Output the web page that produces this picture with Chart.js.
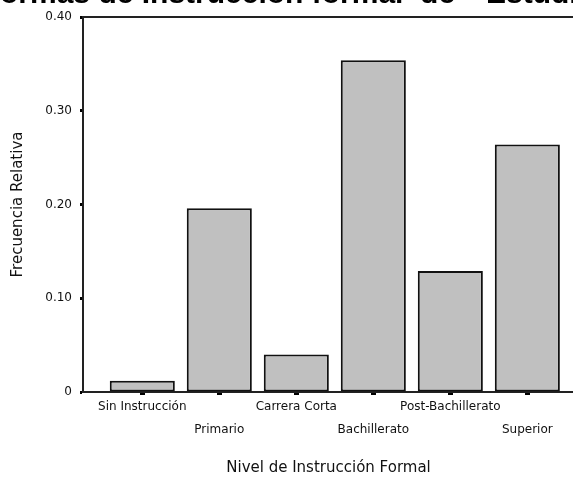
<!DOCTYPE html>
<html><head><meta charset="utf-8">
<script src="https://cdn.jsdelivr.net/npm/chart.js@4"></script>
<style>html,body{margin:0;padding:0;background:#fff;overflow:hidden;width:573px;height:477px}
canvas{display:block}</style></head>
<body><canvas id="c" width="576" height="477" style="width:576px;height:477px"></canvas>
<script>
const chartTitle = 'Formas de Instrucción formal  de  "Estudiantes"';
const categories = ['Sin Instrucción','Primario','Carrera Corta','Bachillerato','Post-Bachillerato','Superior'];
const relFreq = [0.012, 0.196, 0.040, 0.354, 0.129, 0.264];
const yTickValues = [0, 0.1, 0.2, 0.3, 0.4];
const yTickLabels = ['0', '0.10', '0.20', '0.30', '0.40'];
const xAxisTitle = 'Nivel de Instrucción Formal';
const yAxisTitle = 'Frecuencia Relativa';

const FONT = '"DejaVu Sans", Verdana, sans-serif';
const TFONT = '"Liberation Sans", Arial, sans-serif';
const TXT = '#111';

const clippedTitle = {
  id: 'clippedTitle',
  afterDraw(chart) {
    const ctx = chart.ctx;
    ctx.save();
    ctx.font = 'bold 30px ' + TFONT;
    ctx.fillStyle = '#000';
    ctx.textAlign = 'left';
    ctx.textBaseline = 'alphabetic';
    const off = ctx.measureText('F').width;
    ctx.fillText(chartTitle, -off, 3);
    ctx.restore();
  }
};
const frame = {
  id: 'frame',
  afterDatasetsDraw(chart) {
    const {ctx, chartArea: a} = chart;
    ctx.save();
    ctx.strokeStyle = '#222';
    ctx.lineWidth = 2;
    ctx.beginPath();
    ctx.moveTo(a.left, a.top);
    ctx.lineTo(a.right, a.top);
    ctx.lineTo(a.right, a.bottom);
    ctx.stroke();
    ctx.restore();
  }
};

new Chart(document.getElementById('c'), {
  type: 'bar',
  data: {
    datasets: [{
      data: relFreq.map((v, i) => ({x: i, y: v})),
      backgroundColor: '#c0c0c0',
      borderColor: '#111',
      borderWidth: 2,
      borderSkipped: false,
      barPercentage: 0.845,
      categoryPercentage: 1
    }]
  },
  options: {
    responsive: false,
    animation: false,
    layout: {padding: {top: 17, left: 0, right: 2, bottom: 0}},
    plugins: {legend: {display: false}, tooltip: {enabled: false}, title: {display: false}},
    scales: {
      x: {
        type: 'linear',
        min: -0.77,
        max: 5.606,
        offset: false,
        afterBuildTicks: s => { s.ticks = categories.map((_, i) => ({value: i})); },
        afterFit: s => { s.height = 85; },
        ticks: {
          autoSkip: false, maxRotation: 0, minRotation: 0, padding: 0,
          color: TXT,
          font: {family: FONT, size: 12, lineHeight: 23/12},
          callback: (v, i) => (i % 2 === 0 ? categories[i] : ['', categories[i]])
        },
        grid: {offset: false, drawOnChartArea: false, drawTicks: true, tickLength: 3, tickWidth: 5, tickColor: '#000'},
        border: {display: true, color: '#222', width: 2},
        title: {display: true, text: xAxisTitle, color: TXT, font: {family: FONT, size: 15}, padding: {top: 0, bottom: 0}}
      },
      y: {
        min: 0, max: 0.4,
        afterBuildTicks: s => { s.ticks = yTickValues.map(v => ({value: v})); },
        afterFit: s => { s.width = 83; },
        ticks: {
          padding: 8, color: TXT,
          font: {family: FONT, size: 12},
          callback: (v, i) => yTickLabels[i]
        },
        grid: {drawOnChartArea: false, drawTicks: true, tickLength: 3, tickWidth: 3, tickColor: '#000'},
        border: {display: true, color: '#222', width: 2},
        title: {display: true, text: yAxisTitle, color: TXT, font: {family: FONT, size: 15}, padding: {top: 9, bottom: 0}}
      }
    }
  },
  plugins: [frame, clippedTitle]
});
</script>
</body></html>
